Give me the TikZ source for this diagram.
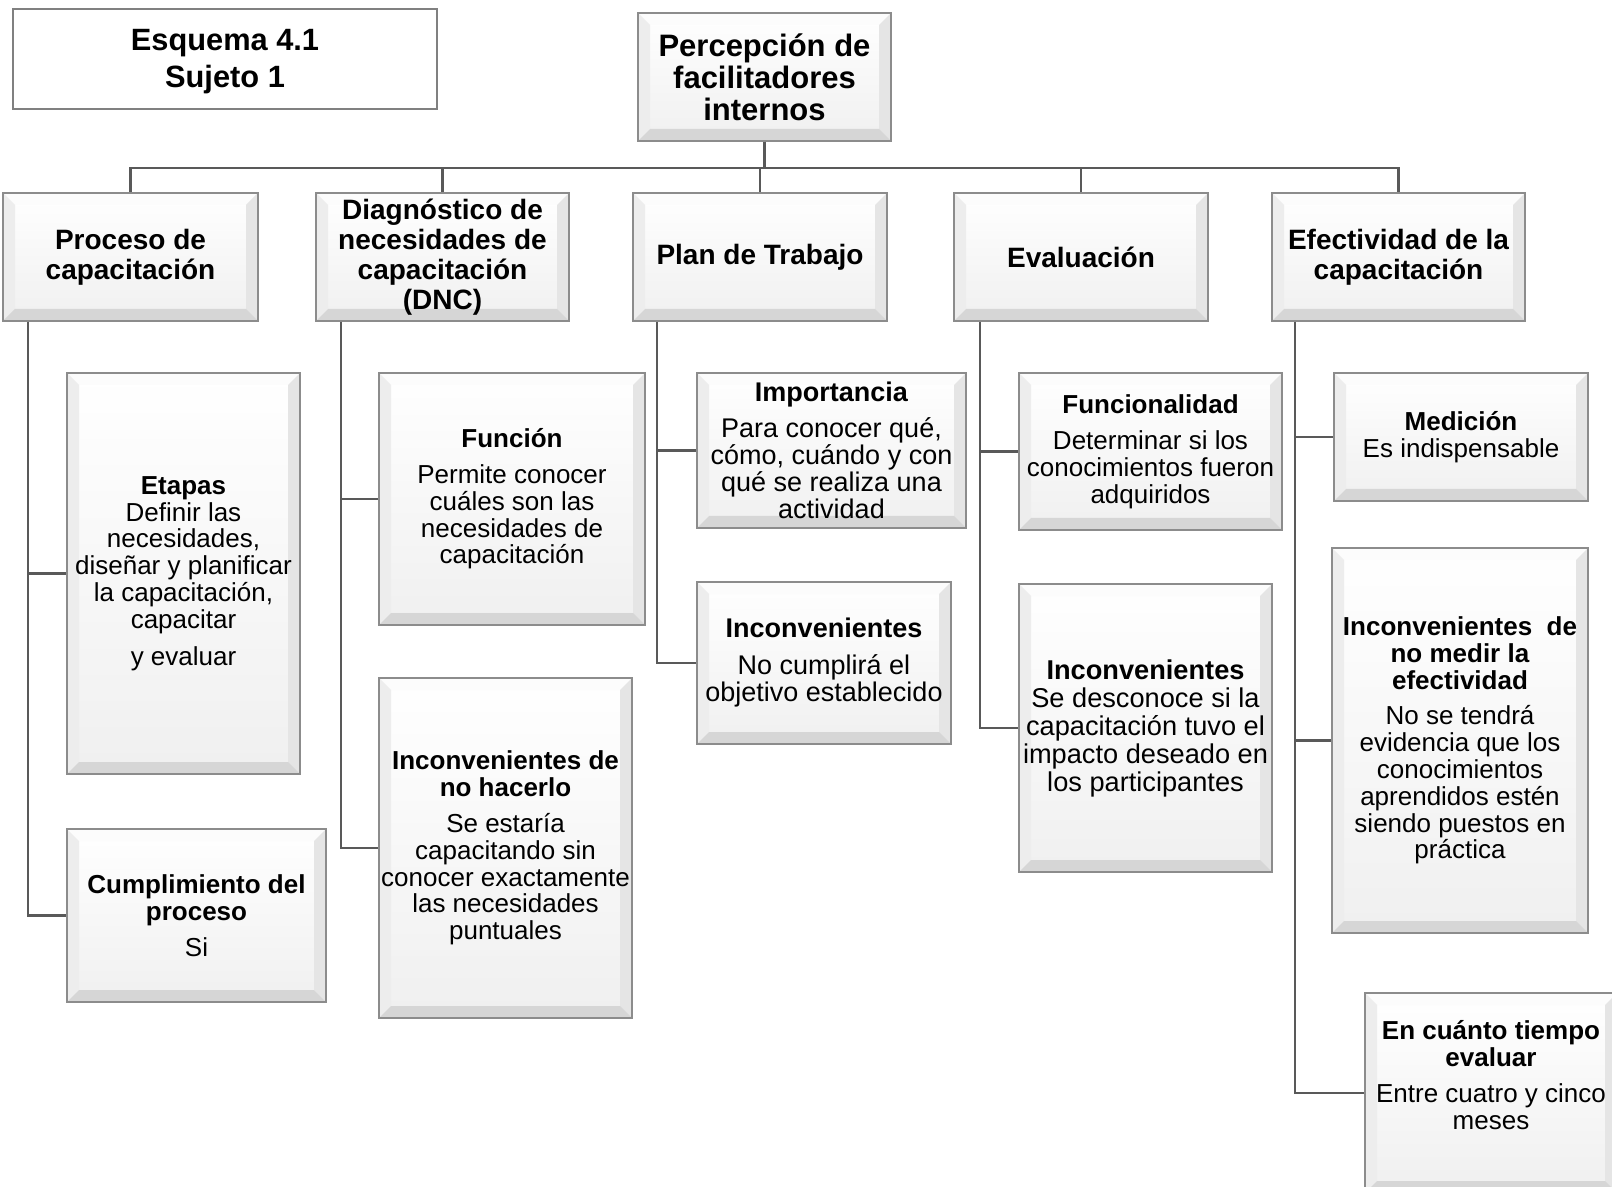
\documentclass[tikz,border=0pt]{standalone}
\usepackage{fontspec}
\setmainfont{Liberation Sans}
\usetikzlibrary{calc}
\begin{document}
\begin{tikzpicture}[x=0.5pt,y=-0.5pt,
  conn/.style={draw=black!65,line width=1.25pt},
  bevelbox/.style={draw=black!45,line width=0.8pt,inner sep=0pt,align=center,fill=white,
    path picture={
      \path (path picture bounding box.south west) coordinate (pSW)
            (path picture bounding box.north east) coordinate (pNE)
            (path picture bounding box.north west) coordinate (pNW)
            (path picture bounding box.south east) coordinate (pSE);
      \path ([shift={(6pt,6pt)}]pSW) coordinate (iSW)
            ([shift={(-6pt,-6pt)}]pNE) coordinate (iNE)
            ([shift={(6pt,-6pt)}]pNW) coordinate (iNW)
            ([shift={(-6pt,6pt)}]pSE) coordinate (iSE);
      \shade[top color=white,bottom color=black!6] (pSW) rectangle (pNE);
      \fill[black!1] (pNW) -- (pNE) -- (iNE) -- (iNW) -- cycle;
      \fill[black!7] (pNW) -- (iNW) -- (iSW) -- (pSW) -- cycle;
      \fill[black!10] (pNE) -- (iNE) -- (iSE) -- (pSE) -- cycle;
      \fill[black!16] (pSW) -- (iSW) -- (iSE) -- (pSE) -- cycle;
    }},
  lone/.style={bevelbox,minimum height=64pt,font=\fontsize{14}{15}\selectfont\bfseries},
  kid/.style={bevelbox,font=\fontsize{13}{13.4}\selectfont},
]
\useasboundingbox (0,0) rectangle (1612,1187);
\fill[white] (0,0) rectangle (1612,1187);

% title
\node[draw=black!50,line width=1pt,fill=white,inner sep=0pt,align=center,
  minimum width=212pt,minimum height=50pt,font=\fontsize{15.4}{18.5}\selectfont\bfseries]
  (title) at (225,59) {\rule{0pt}{13pt}Esquema 4.1\\Sujeto 1};

% root
\node[bevelbox,minimum width=126.5pt,minimum height=64pt,font=\fontsize{15.5}{16}\selectfont\bfseries]
  (top) at (764.5,77) {Percepción de\\facilitadores\\internos};

% level 1
\node[lone,minimum width=127.5pt] (proc) at (130.5,257) {Proceso de\\capacitación};
\node[lone,minimum width=126.5pt] (diag) at (442.5,257) {Diagnóstico de\\necesidades de\\capacitación\\(DNC)};
\node[lone,minimum width=127pt] (plan) at (760,257) {Plan de Trabajo};
\node[lone,minimum width=127pt] (eval) at (1081,257) {Evaluación};
\node[lone,minimum width=126.5pt] (efec) at (1398.5,257) {Efectividad de la\\capacitación};

% children
\node[kid,minimum width=116.5pt,minimum height=200.5pt] (etapas) at (183.5,573.5)
  {\textbf{Etapas}\\Definir las\\necesidades,\\diseñar y planificar\\la capacitación,\\capacitar\\[5pt]y evaluar};
\node[kid,minimum width=129.5pt,minimum height=86.5pt] (cumpl) at (196.5,915.5)
  {\textbf{Cumplimiento del}\\\textbf{proceso}\\[4.5pt]Si};
\node[kid,minimum width=133pt,minimum height=126pt] (funcion) at (512,499)
  {\textbf{Función}\\[4.5pt]Permite conocer\\cuáles son las\\necesidades de\\capacitación};
\node[kid,minimum width=126.5pt,minimum height=170pt] (inchac) at (505.5,848)
  {\textbf{Inconvenientes de}\\\textbf{no hacerlo}\\[4.5pt]Se estaría\\capacitando sin\\conocer exactamente\\las necesidades\\puntuales};
\node[kid,minimum width=134.5pt,minimum height=77.5pt,font=\fontsize{13.5}{13.5}\selectfont] (import) at (831.5,450.5)
  {\textbf{Importancia}\\[4.5pt]Para conocer qué,\\cómo, cuándo y con\\qué se realiza una\\actividad};
\node[kid,minimum width=127pt,minimum height=81pt,font=\fontsize{13.5}{13.5}\selectfont] (incplan) at (824,663)
  {\textbf{Inconvenientes}\\[5pt]No cumplirá el\\objetivo establecido};
\node[kid,minimum width=131.5pt,minimum height=78.5pt] (funcional) at (1150.5,451.5)
  {\textbf{Funcionalidad}\\[5pt]Determinar si los\\conocimientos fueron\\adquiridos};
\node[kid,minimum width=126.5pt,minimum height=144pt,font=\fontsize{13.6}{14}\selectfont] (inceval) at (1145.5,728)
  {\textbf{Inconvenientes}\\Se desconoce si la\\capacitación tuvo el\\impacto deseado en\\los participantes};
\node[kid,minimum width=127pt,minimum height=64pt] (medicion) at (1461,437)
  {\textbf{Medición}\\Es indispensable};
\node[kid,minimum width=128pt,minimum height=192.5pt] (incmed) at (1460,740.5)
  {\textbf{Inconvenientes\ \ de}\\\textbf{no medir la}\\\textbf{efectividad}\\[4.5pt]No se tendrá\\evidencia que los\\conocimientos\\aprendidos estén\\siendo puestos en\\práctica};
\node[kid,minimum width=126pt,minimum height=100pt] (tiempo) at (1491,1093)
  {\textbf{En cuánto tiempo}\\\textbf{evaluar}\\[4.5pt]Entre cuatro y cinco\\meses\\[4.6pt]\mbox{}};

% connectors
\draw[conn] (top.south) -- ++(0,26) -| (proc.north);
\draw[conn] (top.south) -- ++(0,26) -| (diag.north);
\draw[conn] (top.south) -- ++(0,26) -| (plan.north);
\draw[conn] (top.south) -- ++(0,26) -| (eval.north);
\draw[conn] (top.south) -- ++(0,26) -| (efec.north);

\draw[conn] ([xshift=13pt]proc.south west) |- (etapas.west);
\draw[conn] ([xshift=13pt]proc.south west) |- (cumpl.west);
\draw[conn] ([xshift=13pt]diag.south west) |- (funcion.west);
\draw[conn] ([xshift=13pt]diag.south west) |- (inchac.west);
\draw[conn] ([xshift=12.5pt]plan.south west) |- (import.west);
\draw[conn] ([xshift=12.5pt]plan.south west) |- (incplan.west);
\draw[conn] ([xshift=13.5pt]eval.south west) |- (funcional.west);
\draw[conn] ([xshift=13.5pt]eval.south west) |- (inceval.west);
\draw[conn] ([xshift=12pt]efec.south west) |- (medicion.west);
\draw[conn] ([xshift=12pt]efec.south west) |- (incmed.west);
\draw[conn] ([xshift=12pt]efec.south west) |- (tiempo.west);
\end{tikzpicture}
\end{document}
